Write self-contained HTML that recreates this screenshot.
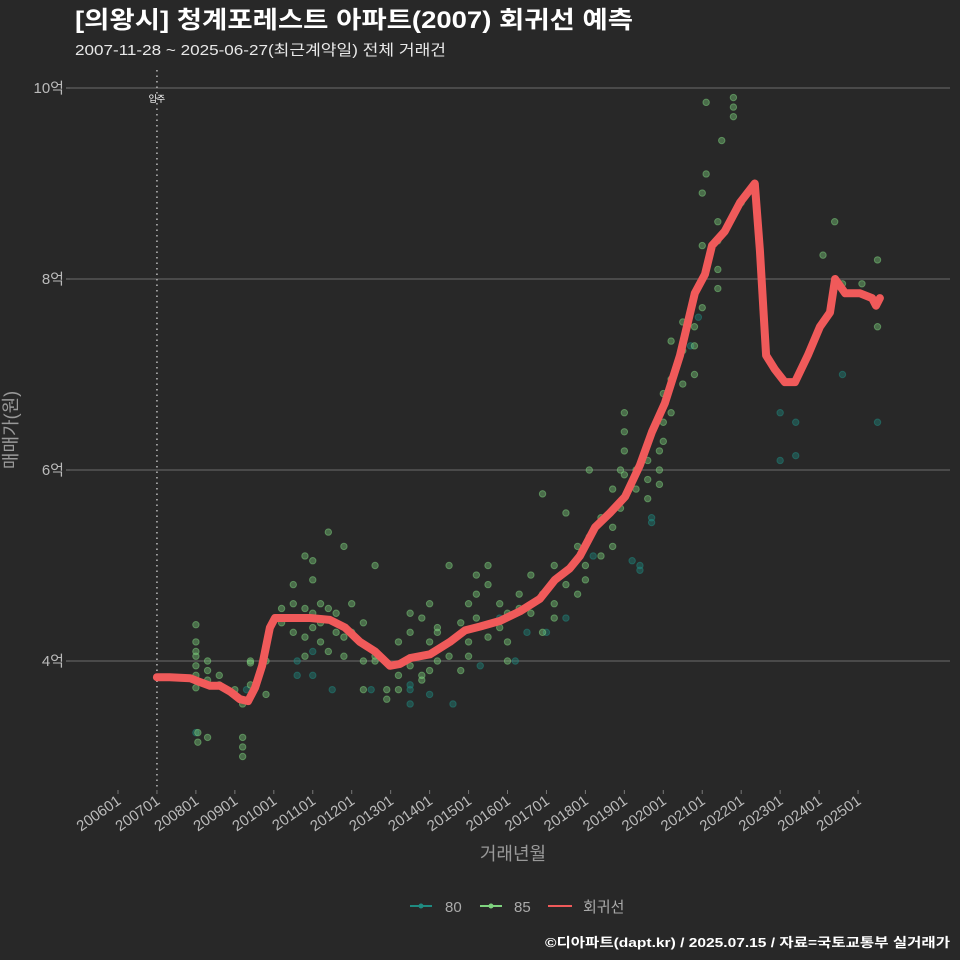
<!DOCTYPE html>
<html><head><meta charset="utf-8"><style>
html,body{margin:0;padding:0;background:#282828;}
svg{display:block;font-family:"Liberation Sans","Noto Sans CJK KR",sans-serif;}
</style></head><body>
<svg id="chart" width="960" height="960" viewBox="0 0 960 960">
<rect width="960" height="960" fill="#282828"/>
<text x="75" y="28" fill="#fff" font-size="24" font-weight="bold" textLength="558" lengthAdjust="spacingAndGlyphs">[의왕시] 청계포레스트 아파트(2007) 회귀선 예측</text>
<text x="75" y="55" fill="#e8e8e8" font-size="15" textLength="371" lengthAdjust="spacingAndGlyphs">2007-11-28 ~ 2025-06-27(최근계약일) 전체 거래건</text>
<g id="grid"></g>
<g id="yticks"></g>
<g id="xticks"></g>
<g id="points"></g>
<g id="line"></g>
<text x="17" y="430" fill="#999" font-size="18" text-anchor="middle" transform="rotate(-90 17 430)">매매가(원)</text>
<text x="513" y="860" fill="#999" font-size="18" text-anchor="middle">거래년월</text>
<g>
<g><line x1="410" y1="906" x2="432" y2="906" stroke="#1f8a80" stroke-width="2"/><circle cx="421" cy="906" r="2.5" fill="#1f8a80"/><text x="445" y="912" fill="#aaa" font-size="15">80</text></g>
<g><line x1="480" y1="906" x2="502" y2="906" stroke="#7ed27e" stroke-width="2"/><circle cx="491" cy="906" r="2.5" fill="#7ed27e"/><text x="514" y="912" fill="#aaa" font-size="15">85</text></g>
<g><line x1="548" y1="906" x2="572" y2="906" stroke="#f05a5a" stroke-width="2"/><text x="583" y="912" fill="#aaa" font-size="15">회귀선</text></g>
</g>
<text x="545" y="947" fill="#fff" font-size="13" font-weight="bold" textLength="405" lengthAdjust="spacingAndGlyphs">©디아파트(dapt.kr) / 2025.07.15 / 자료=국토교통부 실거래가</text>
</svg>
<script>
const yTickValues = [4, 6, 8, 10];
const yTickLabels = ["4억", "6억", "8억", "10억"];
const xTickYears = [2006,2007,2008,2009,2010,2011,2012,2013,2014,2015,2016,2017,2018,2019,2020,2021,2022,2023,2024,2025];
const xTickLabels = ["200601","200701","200801","200901","201001","201101","201201","201301","201401","201501","201601","201701","201801","201901","202001","202101","202201","202301","202401","202501"];
const moveInYear = 2007;
const lineYears = [2007.0,2007.33,2007.85,2008.1,2008.36,2008.62,2008.88,2009.13,2009.34,2009.52,2009.7,2009.9,2010.03,2010.42,2010.93,2011.44,2011.83,2012.21,2012.6,2012.98,2013.24,2013.5,2014.01,2014.52,2014.91,2015.29,2015.81,2016.32,2016.83,2017.22,2017.6,2017.86,2018.25,2018.63,2019.02,2019.4,2019.71,2020.04,2020.43,2020.81,2021.07,2021.25,2021.58,2021.97,2022.35,2022.48,2022.64,2022.87,2023.12,2023.38,2023.71,2024.02,2024.28,2024.41,2024.67,2025.05,2025.36,2025.46,2025.56];
const lineValues = [3.83,3.83,3.82,3.78,3.74,3.74,3.68,3.6,3.58,3.72,3.95,4.35,4.45,4.45,4.45,4.43,4.35,4.2,4.1,3.95,3.97,4.03,4.07,4.2,4.32,4.36,4.42,4.52,4.65,4.85,4.97,5.1,5.4,5.55,5.72,6.05,6.4,6.7,7.2,7.85,8.05,8.35,8.5,8.8,9.0,8.3,7.2,7.05,6.92,6.92,7.2,7.5,7.65,8.0,7.85,7.85,7.8,7.72,7.8];
const s85Years = [2008,2008,2008,2008,2008,2008,2008,2008.05,2008.05,2008.3,2008.3,2008.3,2008.3,2008.6,2008.6,2009,2009,2009.2,2009.2,2009.2,2009.2,2009.4,2009.4,2009.4,2009.8,2009.8,2010.2,2010.2,2010.5,2010.5,2010.5,2010.8,2010.8,2010.8,2010.8,2011,2011,2011,2011,2011.2,2011.2,2011.2,2011.4,2011.4,2011.4,2011.6,2011.6,2011.8,2011.8,2011.8,2012,2012,2012.3,2012.3,2012.3,2012.6,2012.6,2012.6,2012.9,2012.9,2013.2,2013.2,2013.2,2013.5,2013.5,2013.5,2013.8,2013.8,2013.8,2014,2014,2014,2014.2,2014.2,2014.2,2014.5,2014.5,2014.8,2014.8,2015,2015,2015,2015.2,2015.2,2015.2,2015.5,2015.5,2015.5,2015.8,2015.8,2016,2016,2016,2016.3,2016.3,2016.6,2016.6,2016.9,2016.9,2016.9,2017.2,2017.2,2017.2,2017.5,2017.5,2017.8,2017.8,2018,2018,2018.1,2018.1,2018.4,2018.4,2018.7,2018.7,2018.7,2018.9,2018.9,2019,2019,2019,2019,2019.3,2019.3,2019.6,2019.6,2019.6,2019.9,2019.9,2019.9,2020,2020,2020,2020.2,2020.2,2020.2,2020.5,2020.5,2020.5,2020.8,2020.8,2020.8,2020.8,2021,2021,2021,2021.1,2021.1,2021.4,2021.4,2021.4,2021.4,2021.5,2021.8,2021.8,2021.8,2022,2024.1,2024.4,2024.6,2025.1,2025.5,2025.5];
const s85Values = [4.38,4.2,4.1,4.05,3.95,3.85,3.72,3.15,3.25,4.0,3.9,3.8,3.2,3.85,3.75,3.7,3.65,3.55,3.1,3.2,3.0,3.98,4.0,3.75,4.0,3.65,4.55,4.4,4.3,4.8,4.6,5.1,4.55,4.25,4.05,4.85,5.05,4.5,4.35,4.6,4.4,4.2,5.35,4.55,4.1,4.3,4.5,5.2,4.25,4.05,4.6,4.3,4.4,4.0,3.7,5.0,4.0,4.05,3.7,3.6,4.2,3.85,3.7,4.5,4.3,3.95,4.45,3.8,3.85,4.6,4.2,3.9,4.3,4.35,4.0,5.0,4.05,4.4,3.9,4.6,4.2,4.05,4.7,4.9,4.45,5.0,4.8,4.25,4.6,4.35,4.5,4.2,4.0,4.7,4.55,4.9,4.5,5.75,4.7,4.3,5.0,4.6,4.45,5.55,4.8,5.2,4.7,5.0,4.85,6.0,5.3,5.5,5.1,5.8,5.4,5.2,6.0,5.6,6.6,6.4,6.2,5.95,5.8,6.0,6.1,5.7,5.9,6.2,6.0,5.85,6.8,6.5,6.3,7.35,6.95,6.6,7.55,7.25,6.9,7.85,7.5,7.3,7.0,8.35,8.9,7.7,9.85,9.1,8.6,8.1,8.4,7.9,9.45,9.9,9.7,9.8,8.8,8.25,8.6,7.95,7.95,8.2,7.5];
const s80Years = [2008,2009.3,2010.6,2010.6,2011,2011,2011.5,2012.5,2013.5,2013.5,2013.5,2014,2014.6,2015.3,2015.8,2016.2,2016.5,2017,2017.5,2018.2,2019.2,2019.4,2019.4,2019.7,2019.7,2020.7,2020.9,2023,2023,2023.4,2023.4,2024.6,2025.5];
const s80Values = [3.25,3.7,4.0,3.85,3.85,4.1,3.7,3.7,3.55,3.7,3.75,3.65,3.55,3.95,4.45,4.0,4.3,4.3,4.45,5.1,5.05,5.0,4.95,5.5,5.45,7.3,7.6,6.6,6.1,6.15,6.5,7.0,6.5];

const NS = "http://www.w3.org/2000/svg";
const xScale = yr => 118 + (yr - 2006) * 38.95;
const yScale = v => 661 - (v - 4) * 95.5;
function mk(tag, attrs, parent) { const e = document.createElementNS(NS, tag); for (const k in attrs) e.setAttribute(k, attrs[k]); parent.appendChild(e); return e; }
const grid = document.getElementById('grid'), yt = document.getElementById('yticks'), xt = document.getElementById('xticks');
yTickValues.forEach((v, i) => {
  const y = yScale(v);
  const g = mk('line', {x1: 70, x2: 950, y1: y, y2: y, stroke: '#5e5e5e', 'stroke-width': 1.2}, grid);
  
  
  mk('line', {x1: 66, x2: 70, y1: y, y2: y, stroke: '#777'}, yt);
  const t = mk('text', {x: 64, y: y + 5, fill: '#bbb', 'font-size': 15, 'text-anchor': 'end'}, yt);
  t.textContent = yTickLabels[i];
  
  
});
xTickYears.forEach((yr, i) => {
  const x = xScale(yr);
  mk('line', {x1: x, x2: x, y1: 790, y2: 794, stroke: '#777'}, xt);
  const t = mk('text', {x: x + 4, y: 803, fill: '#bbb', 'font-size': 15, 'text-anchor': 'end', transform: `rotate(-35 ${x + 4} 803)`}, xt);
  t.textContent = xTickLabels[i];
  
  
});
const mx = xScale(moveInYear);
const ml = mk('line', {x1: mx, x2: mx, y1: 70, y2: 790, stroke: '#bbb', 'stroke-dasharray': '1.5 4', 'stroke-width': 1.5}, grid);


const mt = mk('text', {x: mx, y: 102, fill: '#fff', 'font-size': 9, 'text-anchor': 'middle'}, grid);
mt.textContent = '입주';


const pts = document.getElementById('points');
s80Years.forEach((yr, i) => {
  const c = mk('circle', {cx: xScale(yr), cy: yScale(s80Values[i]), r: 3.2, fill: '#1f8a80', 'fill-opacity': 0.4, stroke: '#1f8a80', 'stroke-opacity': 0.5}, pts);
  
  
});
s85Years.forEach((yr, i) => {
  const c = mk('circle', {cx: xScale(yr), cy: yScale(s85Values[i]), r: 3.2, fill: '#7ed27e', 'fill-opacity': 0.4, stroke: '#7ed27e', 'stroke-opacity': 0.5}, pts);
  
  
});
const d = lineYears.map((yr, i) => (i ? 'L' : 'M') + xScale(yr).toFixed(1) + ' ' + yScale(lineValues[i]).toFixed(1)).join(' ');
const p = mk('path', {d: d, fill: 'none', stroke: '#f05a5a', 'stroke-width': 8, 'stroke-linejoin': 'round', 'stroke-linecap': 'round'}, document.getElementById('line'));


</script>
</body></html>
